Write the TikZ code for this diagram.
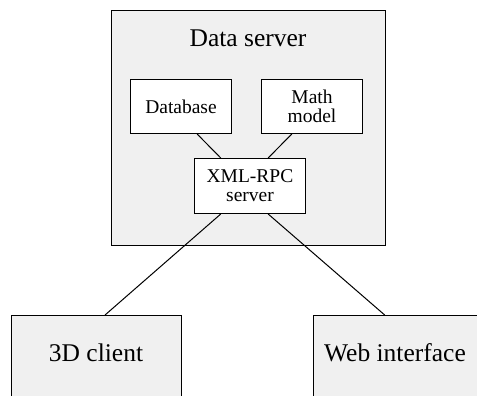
\documentclass[tikz,border=0pt]{standalone}
\usepackage{fontspec}
\setmainfont{Liberation Serif}
\usetikzlibrary{calc}
\definecolor{panel}{HTML}{F0F0F0}
\tikzset{
  box/.style={draw=black, line width=1pt, fill=white, inner sep=0pt,
    font=\fontsize{19.5}{22}\selectfont, align=center},
  greybox/.style={draw=black, line width=1pt, fill=panel, inner sep=0pt},
  link/.style={draw=black, line width=1pt},
  bigtext/.style={font=\fontsize{25.5}{28}\selectfont}
}
\begin{document}
\begin{tikzpicture}[x=1pt,y=-1pt]
\useasboundingbox (0,0) rectangle (477,396);
\clip (0,0) rectangle (477,396);
% outer server panel
\node[greybox, minimum width=274pt, minimum height=235pt] (srv) at (248.5,128) {};
\node[bigtext] (title) at (248,38) {Data server};
% inner components
\node[box, minimum width=101pt, minimum height=54pt] (db) at (181,106.5) {Database};
\node[box, minimum width=101pt, minimum height=54pt] (mm) at (312,106.5) {Math\\[-3pt]model};
\node[box, minimum width=111pt, minimum height=55pt] (xml) at (250,186) {XML-RPC\\[-3pt]server};
% clients, running past the lower edge
\node[greybox, minimum width=170pt, minimum height=104pt] (client) at (96.5,367.5) {};
\node[bigtext] (clienttext) at (96,353) {3D client};
\node[greybox, minimum width=176pt, minimum height=104pt] (web) at (401.5,367.5) {};
\node[bigtext] (webtext) at (395,353) {Web interface};
% connectors
\draw[link] ($(db.south west)!0.658!(db.south east)$) -- ($(xml.north west)!0.239!(xml.north east)$);
\draw[link] ($(mm.south west)!0.302!(mm.south east)$) -- ($(xml.north west)!0.662!(xml.north east)$);
\draw[link] ($(xml.south west)!0.239!(xml.south east)$) -- ($(client.north west)!0.55!(client.north east)$);
\draw[link] ($(xml.south west)!0.662!(xml.south east)$) -- ($(web.north west)!0.405!(web.north east)$);
\end{tikzpicture}
\end{document}
